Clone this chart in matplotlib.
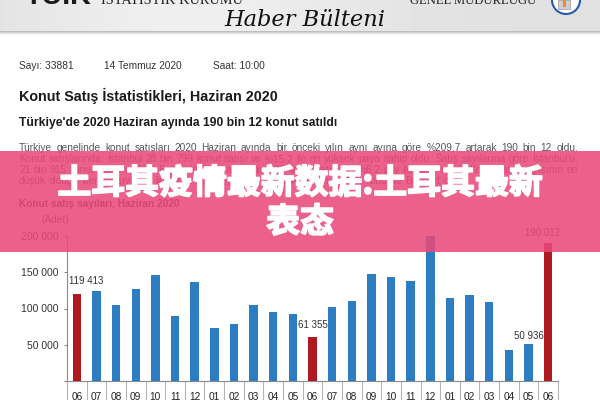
import matplotlib
matplotlib.use("Agg")
import matplotlib.pyplot as plt
import matplotlib.patheffects as pe
from matplotlib.patches import Rectangle, Circle
import numpy as np

# ---------------- data ----------------
months = ["06", "07", "08", "09", "10", "11", "12",
          "01", "02", "03", "04", "05", "06", "07", "08", "09", "10", "11", "12",
          "01", "02", "03", "04", "05", "06"]
sales = [119413, 123700, 105200, 127500, 146600, 89500, 137000,
         73000, 78000, 105500, 95800, 92000, 61355, 102300, 110600, 147400, 143200, 137800, 200400,
         113800, 118900, 108600, 42500, 50936, 190012]
highlight = [0, 12, 24]            # June bars shown in red
labelled = [0, 12, 23, 24]         # bars carrying a value label
ytick_values = [0, 50000, 100000, 150000, 200000]
ytick_labels = ["", "50 000", "100 000", "150 000", "200 000"]

doc_meta = ["Sayı: 33881", "14 Temmuz 2020", "Saat: 10:00"]
doc_title = "Konut Satış İstatistikleri, Haziran 2020"
doc_subtitle = "Türkiye'de 2020 Haziran ayında 190 bin 12 konut satıldı"
paragraph = [
    "Türkiye genelinde konut satışları 2020 Haziran ayında bir önceki yılın aynı ayına göre %209,7 artarak 190 bin 12 oldu.",
    "Konut satışlarında, İstanbul 28 bin 799 konut satışı ve %15,2 ile en yüksek paya sahip oldu. Satış sayılarına göre İstanbul'u,",
    "21 bin 915 konut satışı ve %11,5 pay ile Ankara, 11 bin 827 konut satışı ve %6,2 pay ile İzmir izledi. Konut satış sayısının en",
    "düşük olduğu iller sırasıyla 23 konut ile Hakkari, 42 konut ile Ardahan ve 102 konut ile Bayburt oldu.",
]
chart_title = "Konut satış sayıları, Haziran 2020"
unit_label = "(Adet)"
banner_lines = ["土耳其疫情最新数据:土耳其最新", "表态"]

# ---------------- figure ----------------
W, H = 600, 400
fig = plt.figure(figsize=(6, 4), dpi=100)
fig.patch.set_facecolor("white")
renderer = fig.canvas.get_renderer()

bg = fig.add_axes([0, 0, 1, 1], zorder=0)
bg.set_xlim(0, W)
bg.set_ylim(H, 0)
bg.axis("off")

SANS = "Liberation Sans"
SERIF = "Liberation Serif"


def fit(t, width_px):
    w = t.get_window_extent(renderer).width
    t.set_fontsize(t.get_fontsize() * width_px / w)
    return t


# header band with gradient
grad = np.linspace(0, 1, 300)
shade = 0.86 + 0.07 * np.exp(-((grad - 0.3) / 0.35) ** 2) + 0.02 * grad
img = np.tile(shade, (10, 1))
bg.imshow(img, cmap="gray", vmin=0, vmax=1, extent=(0, W, 31, 0), aspect="auto", zorder=1)
shadow = np.linspace(0.72, 1.0, 10).reshape(-1, 1) * np.ones((1, 10))
bg.imshow(shadow, cmap="gray", vmin=0, vmax=1, extent=(0, W, 35, 31), aspect="auto", zorder=1)
bg.set_xlim(0, W)
bg.set_ylim(H, 0)

t = bg.text(25, 3.5, "TÜİK", fontsize=30, fontweight="heavy", family=SANS,
            color="#1a1a1a", va="baseline", ha="left", zorder=2)
fit(t, 67)
t = bg.text(101, 3.5, "İSTATİSTİK KURUMU", fontsize=9, family=SERIF, color="#222222",
            va="baseline", ha="left", zorder=2)
fit(t, 142)
t = bg.text(410, 3.5, "GENEL MÜDÜRLÜĞÜ", fontsize=9, family=SERIF, color="#222222",
            va="baseline", ha="left", zorder=2)
fit(t, 126)
bg.add_patch(Circle((566, 0), 14, facecolor="white", edgecolor="#2a5caa", lw=1.5, zorder=2))
bg.add_patch(Rectangle((558, 0), 12, 9, facecolor="#cfcfcf", edgecolor="#999999", lw=0.5, zorder=3))
bg.add_patch(Rectangle((563, 0), 3, 7, facecolor="#f08a24", edgecolor="none", zorder=4))
t = bg.text(224, 26, "Haber Bülteni", fontsize=14, family="DejaVu Serif", style="italic",
            color="#111111", va="baseline", ha="left", zorder=2)
fit(t, 161)

# meta line
meta_x = [19, 104, 213]
for x, s in zip(meta_x, doc_meta):
    bg.text(x, 69, s, fontsize=7.3, family=SANS, color="#333333", va="baseline", ha="left")

t = bg.text(19, 101, doc_title, fontsize=10, family=SANS, fontweight="bold",
            color="#1a1a1a", va="baseline", ha="left")
fit(t, 257)
t = bg.text(19, 126, doc_subtitle, fontsize=8, family=SANS, fontweight="bold",
            color="#1a1a1a", va="baseline", ha="left")
fit(t, 318)

# justified paragraph: font size chosen so the tightest line fills the measure
left, right = 19, 578
probe = bg.text(0, 0, paragraph[1], fontsize=7.0, family=SANS)
par_fs = 7.0 * (right - left) / probe.get_window_extent(renderer).width * 0.995
probe.remove()
line_y = [151, 162, 173, 184]
for i, (line, y) in enumerate(zip(paragraph, line_y)):
    words = line.split(" ")
    texts = [bg.text(0, y, w, fontsize=par_fs, family=SANS, color="#555555",
                     va="baseline", ha="left") for w in words]
    widths = [tt.get_window_extent(renderer).width for tt in texts]
    if i < len(paragraph) - 1:
        gap = (right - left - sum(widths)) / (len(words) - 1)
    else:
        gap = par_fs * 0.278 * 100 / 72
    x = left
    for tt, w in zip(texts, widths):
        tt.set_x(x)
        x += w + gap

bg.text(19, 207, chart_title, fontsize=7.3, family=SANS, fontweight="bold",
        color="#333333", va="baseline", ha="left")
bg.text(41, 223, unit_label, fontsize=7.3, family=SANS, color="#444444",
        va="baseline", ha="left")

# ---------------- chart ----------------
ax_left, ax_right, ax_top, ax_bottom = 67, 558, 236, 381
ax = fig.add_axes([ax_left / W, 1 - ax_bottom / H, (ax_right - ax_left) / W, (ax_bottom - ax_top) / H],
                  zorder=5)
ax.patch.set_alpha(0)
x = np.arange(len(sales))
colors = ["#ae1a1f" if i in highlight else "#2d7dc2" for i in x]
ax.bar(x, sales, width=0.43, color=colors, clip_on=False, zorder=3)
ax.set_xlim(-0.5, len(sales) - 0.5)
ax.set_ylim(0, 200000)

for s in ["top", "right"]:
    ax.spines[s].set_visible(False)
for s in ["left", "bottom"]:
    ax.spines[s].set_color("#8a8a8a")
    ax.spines[s].set_linewidth(0.8)

ax.set_yticks(ytick_values)
ax.set_yticklabels(ytick_labels, fontsize=7.5, family=SANS, color="#333333")
ax.tick_params(axis="y", length=2.5, width=0.8, color="#8a8a8a", pad=3.5)

ax.set_xticks(x)
ax.set_xticklabels(months, fontsize=7.3, family=SANS, color="#222222")
ax.tick_params(axis="x", which="major", length=0, pad=8)
ax.set_xticks(np.arange(len(sales) + 1) - 0.5, minor=True)
ax.tick_params(axis="x", which="minor", length=20, width=0.8, color="#b5b5b5")

label_offsets = {0: (7, 6), 12: (0, 5), 23: (0, 2), 24: (-4, 4)}
for i in labelled:
    dx, dy = label_offsets[i]
    lab = f"{sales[i]:,}".replace(",", " ")
    ax.annotate(lab, (x[i], sales[i]), xytext=(dx, dy), textcoords="offset points",
                ha="center", va="bottom", fontsize=7, family=SANS, color="#333333",
                annotation_clip=False, zorder=4)

# ---------------- overlay banner ----------------
ov = fig.add_axes([0, 0, 1, 1], zorder=20)
ov.set_xlim(0, W)
ov.set_ylim(H, 0)
ov.axis("off")
ov.patch.set_alpha(0)
ov.add_patch(Rectangle((0, 151), W, 101, facecolor="#ea4a7b", alpha=0.87, edgecolor="none"))
cjk = ["Noto Sans CJK SC", "DejaVu Sans"]
t1 = ov.text(300, 183, banner_lines[0], family=cjk, fontsize=24, fontweight="bold",
             color="white", ha="center", va="center",
             path_effects=[pe.withStroke(linewidth=1.2, foreground="white")])
fit(t1, 486)
t2 = ov.text(300, 222, banner_lines[1], family=cjk, fontsize=t1.get_fontsize(), fontweight="bold",
             color="white", ha="center", va="center",
             path_effects=[pe.withStroke(linewidth=1.2, foreground="white")])

fig.savefig("out.png", dpi=100)
